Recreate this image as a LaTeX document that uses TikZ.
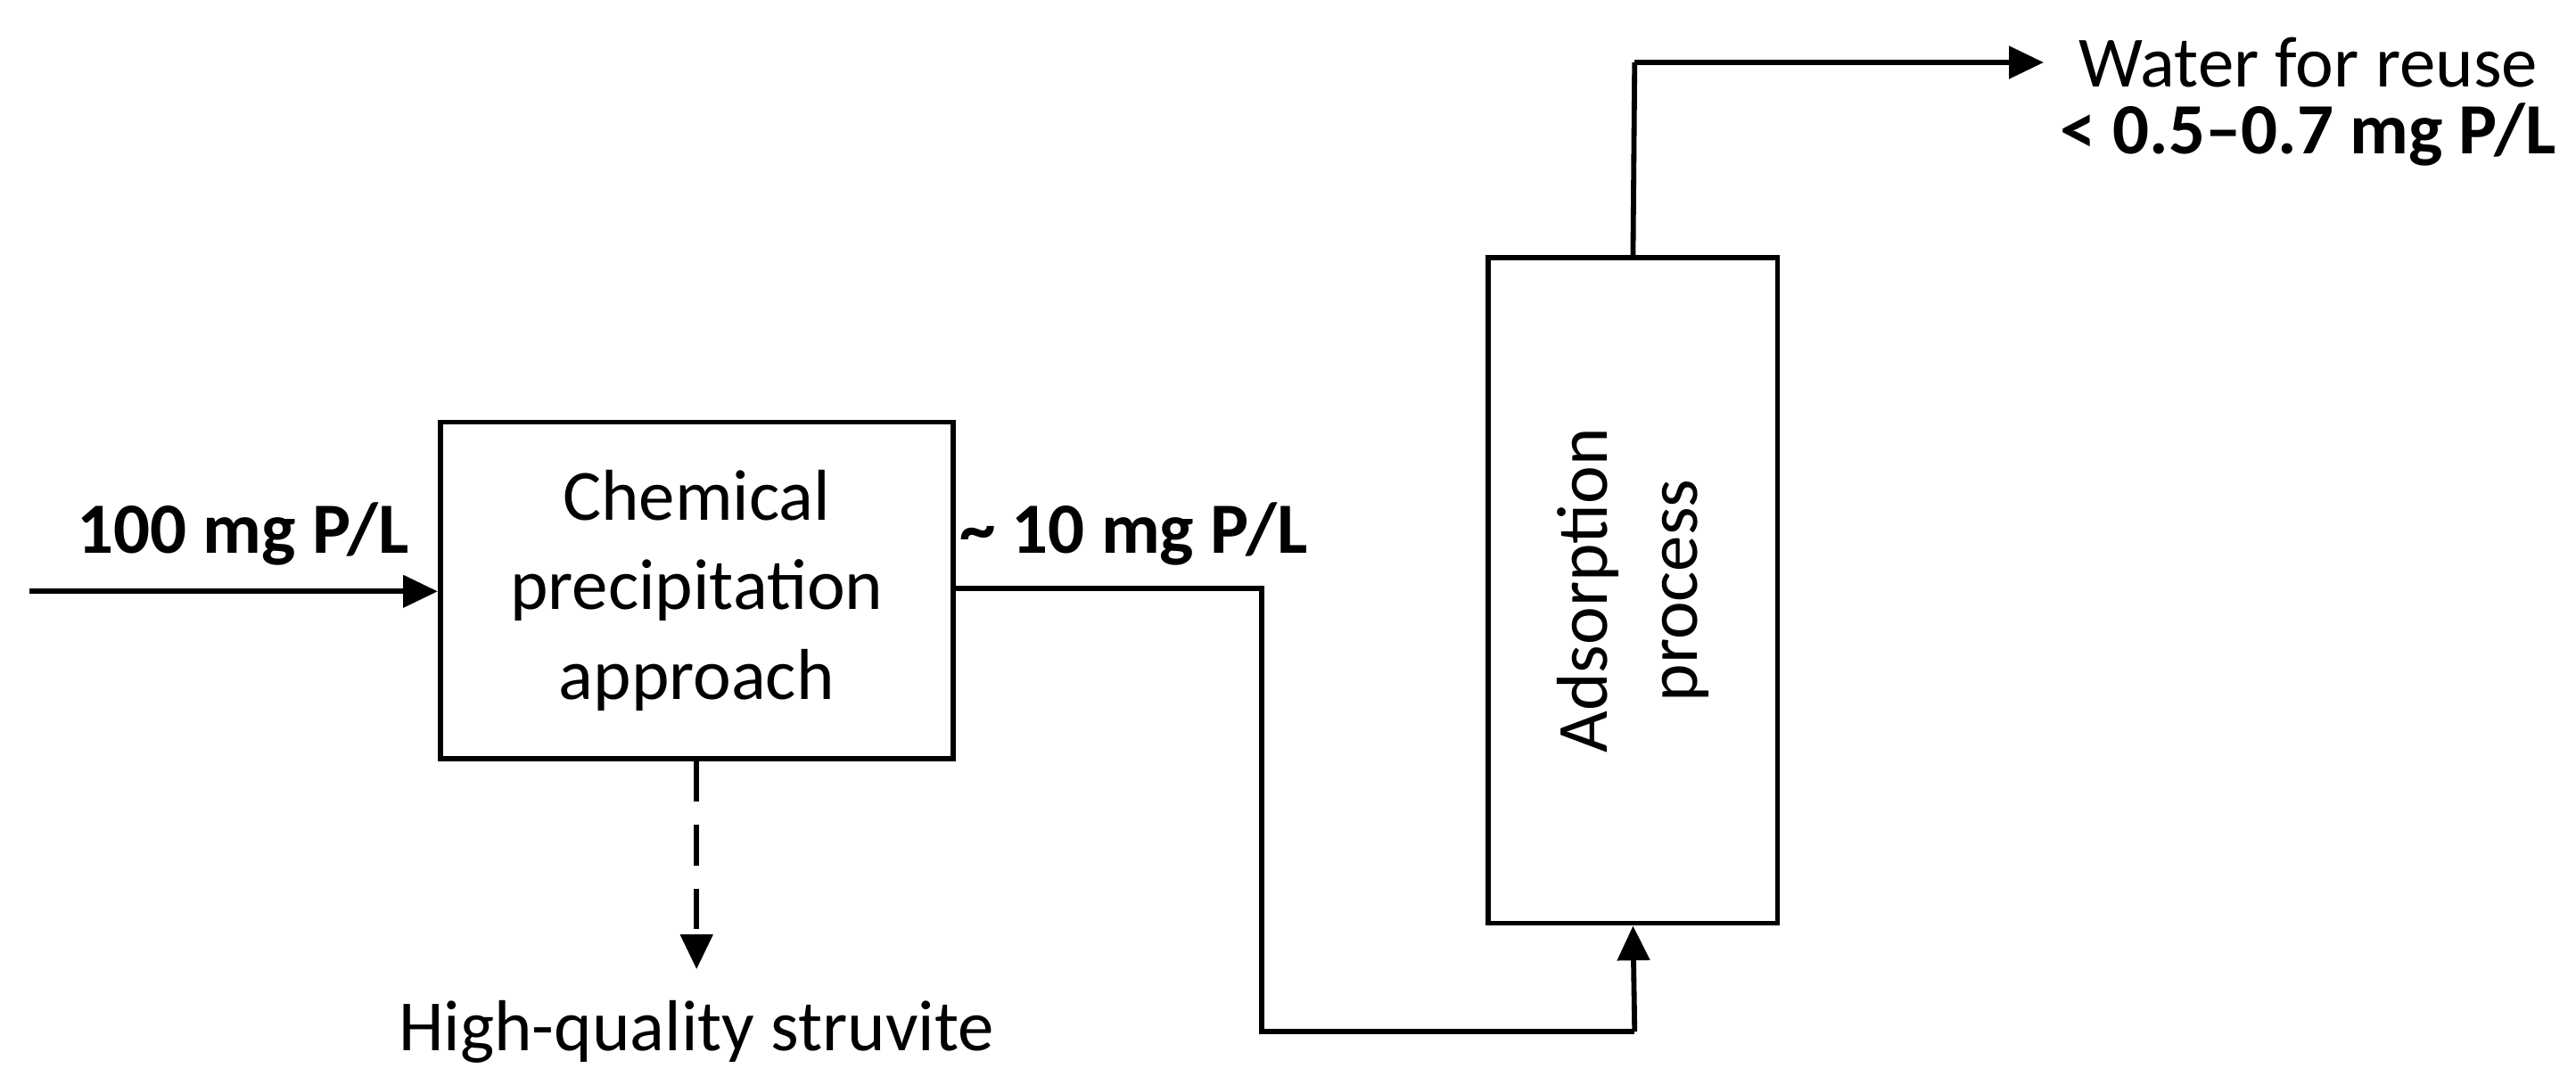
\documentclass[tikz,border=0pt]{standalone}
\usepackage{fontspec}
\setmainfont{Carlito}
\usetikzlibrary{arrows.meta}
\begin{document}
\begin{tikzpicture}[x=0.02cm,y=-0.02cm,
  every node/.style={font=\fontsize{25}{31}\selectfont},
  boxst/.style={draw,line width=1.8pt,inner sep=0pt},
  ln/.style={line width=1.8pt},
  arr/.style={ln,-{Triangle[length=12pt,width=11pt]}},
  lbl/.style={font=\fontsize{25}{31}\selectfont\bfseries}]
\useasboundingbox (0,0) rectangle (1568,660);
\node[boxst,minimum width=312*0.02cm,minimum height=205*0.02cm,align=center] (b1) at (424,359.5) {Chemical\\precipitation\\approach};
\node[boxst,minimum width=176*0.02cm,minimum height=405*0.02cm] (b2) at (994,359.5) {};
\node[rotate=90,align=center] at (b2.center) {Adsorption\\process};
\coordinate (in) at (18,360);
\draw[arr] (in) -- (b1.west |- in);
\node[lbl] (l1) at (148,325) {100 mg P/L};
\node[lbl] (l2) at (690,325) {\char`~\ 10 mg P/L};
\coordinate (d1) at (424,590);
\draw[arr,dashed,dash pattern=on 14pt off 8pt] (b1.south) -- (d1);
\node (s) at (424,628) {High-quality struvite};
\coordinate (o1) at (580,358);
\coordinate (c1) at (768,358);
\coordinate (c2) at (768,628);
\coordinate (c3) at (995,628);
\draw[ln] (o1) -- (c1) -- (c2) -- (c3);
\draw[arr] (c3) -- (b2.south);
\coordinate (u1) at (995,38);
\coordinate (u2) at (1244,38);
\draw[ln] (b2.north) -- (u1);
\draw[arr] (u1) -- (u2);
\node (w) at (1405,38) {Water for reuse};
\node[lbl] (w2) at (1405,82) {< 0.5--0.7 mg P/L};
\end{tikzpicture}
\end{document}
